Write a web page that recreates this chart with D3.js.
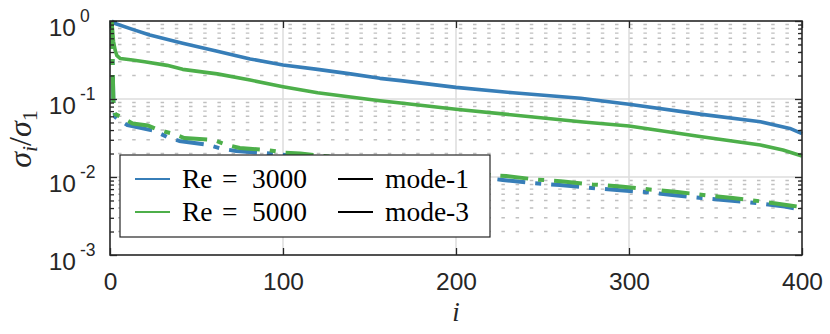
<!DOCTYPE html>
<html>
<head>
<meta charset="utf-8">
<script src="https://cdn.jsdelivr.net/npm/d3@7"></script>
<style>
  html, body { margin: 0; padding: 0; background: #fff; }
  svg { display: block; }
</style>
</head>
<body>
<svg id="chart" width="830" height="334"></svg>
<script>
// ---------------- data ----------------
const xTicks = [0, 100, 200, 300, 400];
const yMajorTicks = [1, 1e-1, 1e-2, 1e-3];
const yTickExponents = ["0", "-1", "-2", "-3"];

const legendSeries = ["Re = 3000", "Re = 5000"];
const legendModes = ["mode-1", "mode-3"];

// Re = 3000, mode-1 (solid blue)
const iRe3000Mode1 = [1, 3, 13, 23, 42, 62, 81, 100, 120, 139, 156, 168, 200, 233, 272, 300, 341, 376, 393, 400];
const re3000Mode1  = [1.0, 0.93, 0.78, 0.66, 0.52, 0.41, 0.326, 0.273, 0.24, 0.21, 0.184, 0.172, 0.141, 0.120, 0.102, 0.0855, 0.064, 0.051, 0.042, 0.036];

// Re = 5000, mode-1 (solid green)
const iRe5000Mode1 = [1, 2, 3, 4, 6, 13, 20, 33, 42, 62, 81, 100, 120, 139, 156, 168, 200, 233, 272, 300, 341, 376, 389, 400];
const re5000Mode1  = [1.0, 0.55, 0.42, 0.36, 0.33, 0.316, 0.30, 0.27, 0.24, 0.21, 0.175, 0.144, 0.12, 0.106, 0.095, 0.0887, 0.0738, 0.0624, 0.0512, 0.0451, 0.033, 0.0257, 0.0222, 0.0186];

// Re = 3000, mode-3 (dash-dot blue)
const iRe3000Mode3 = [1, 2, 3, 5, 10, 26, 33, 40, 57, 64, 73, 90, 100, 130, 160, 190, 215, 227, 244, 260, 276, 293, 309, 325, 342, 358, 374, 390, 400];
const re3000Mode3  = [1.0, 0.081, 0.059, 0.054, 0.0464, 0.0389, 0.0326, 0.029, 0.0257, 0.0232, 0.0215, 0.0203, 0.0193, 0.0157, 0.0131, 0.0111, 0.0098, 0.00916, 0.00838, 0.00789, 0.00733, 0.00681, 0.00643, 0.00588, 0.00538, 0.0050, 0.00464, 0.00419, 0.00378];

// Re = 5000, mode-3 (dash-dot green)
const iRe5000Mode3 = [1, 2, 3, 6, 13, 22, 28, 36, 43, 60, 67, 75, 91, 100, 110, 140, 170, 200, 220, 229, 246, 262, 279, 295, 312, 328, 345, 360, 377, 393, 400];
const re5000Mode3  = [1.0, 0.086, 0.064, 0.0597, 0.0485, 0.0457, 0.040, 0.0361, 0.0316, 0.0298, 0.0261, 0.0235, 0.0222, 0.0206, 0.0200, 0.0170, 0.0143, 0.0121, 0.0106, 0.0103, 0.00929, 0.00875, 0.00802, 0.00755, 0.00692, 0.00643, 0.0058, 0.00538, 0.00485, 0.00431, 0.00412];

// ---------------- layout ----------------
const SANS = "Liberation Sans";
const SERIF = "Liberation Serif";
const svg = d3.select("#chart");
const L = 110, R = 802, T = 21, B = 255;
const x = d3.scaleLinear().domain([0, 400]).range([L, R]);
const y = d3.scaleLog().domain([1e-3, 1]).range([B, T]);
const ink = "#262626";
const blue = "#377eb8", green = "#4daf4a";

const minorVals = [];
[-3, -2, -1].forEach(d => { for (let k = 2; k <= 9; k++) minorVals.push(k * Math.pow(10, d)); });

// background
svg.append("rect").attr("x", L).attr("y", T).attr("width", R - L).attr("height", B - T).attr("fill", "#fff");

// minor grid (dotted)
svg.append("g").selectAll("line").data(minorVals).join("line")
  .attr("x1", L).attr("x2", R)
  .attr("y1", d => y(d)).attr("y2", d => y(d))
  .attr("stroke", "#c0c0c0").attr("stroke-width", 1.4)
  .attr("stroke-dasharray", "3.5,10.7").attr("stroke-dashoffset", 6.2);

// major grid
svg.append("g").selectAll("line").data([1e-1, 1e-2]).join("line")
  .attr("x1", L).attr("x2", R)
  .attr("y1", d => y(d)).attr("y2", d => y(d))
  .attr("stroke", "#dcdcdc").attr("stroke-width", 1.5);
svg.append("g").selectAll("line").data([100, 200, 300]).join("line")
  .attr("y1", T).attr("y2", B)
  .attr("x1", d => x(d)).attr("x2", d => x(d))
  .attr("stroke", "#dcdcdc").attr("stroke-width", 1.5);

// curves
const line = d3.line().x(d => x(d[0])).y(d => y(d[1]));
const zip = (a, b) => a.map((v, k) => [v, b[k]]);
const curves = [
  { d: zip(iRe3000Mode1, re3000Mode1), c: blue, dash: null },
  { d: zip(iRe3000Mode3, re3000Mode3), c: blue, dash: "28,10,6,10" },
  { d: zip(iRe5000Mode1, re5000Mode1), c: green, dash: null },
  { d: zip(iRe5000Mode3, re5000Mode3), c: green, dash: "28,10,6,10" }
];
svg.append("g").selectAll("path").data(curves).join("path")
  .attr("d", c => line(c.d))
  .attr("fill", "none")
  .attr("stroke", c => c.c)
  .attr("stroke-width", c => c.dash ? 4 : 3.6)
  .attr("stroke-dasharray", c => c.dash)
  .attr("stroke-linejoin", "round");

// axes (ticks inward)
const axesG = svg.append("g");
const xb = axesG.append("g").attr("transform", `translate(0,${B})`)
  .call(d3.axisBottom(x).tickValues(xTicks).tickSize(-7).tickPadding(18).tickFormat(d3.format("d")));
xb.attr("font-family", SANS).attr("font-size", 24.5);
xb.selectAll("text").attr("font-family", SANS).attr("font-size", 24.5).attr("fill", ink);
const xt = axesG.append("g").attr("transform", `translate(0,${T})`)
  .call(d3.axisTop(x).tickValues(xTicks).tickSize(-7).tickFormat(""));
const yl = axesG.append("g").attr("transform", `translate(${L},0)`)
  .call(d3.axisLeft(y).tickValues(yMajorTicks).tickSize(-7).tickFormat(""));
const yr = axesG.append("g").attr("transform", `translate(${R},0)`)
  .call(d3.axisRight(y).tickValues(yMajorTicks).tickSize(-7).tickFormat(""));
const ylm = axesG.append("g").attr("transform", `translate(${L},0)`)
  .call(d3.axisLeft(y).tickValues(minorVals).tickSize(-4).tickFormat(""));
const yrm = axesG.append("g").attr("transform", `translate(${R},0)`)
  .call(d3.axisRight(y).tickValues(minorVals).tickSize(-4).tickFormat(""));
[xb, xt, yl, yr, ylm, yrm].forEach(g => {
  g.select(".domain").remove();
  g.selectAll(".tick line").attr("stroke", ink).attr("stroke-width", 1.3);
});

// y tick labels 10^n
const yLab = svg.append("g").attr("fill", ink);
yMajorTicks.forEach((v, k) => {
  yLab.append("text").attr("font-family", SANS).attr("x", 76).attr("y", y(v) + 14.5).attr("text-anchor", "end")
    .attr("font-size", 24.5).text("10");
  yLab.append("text").attr("font-family", SANS).attr("x", 80).attr("y", y(v) + 1).attr("text-anchor", "start")
    .attr("font-size", 17.5).text(yTickExponents[k]);
});

// box
svg.append("rect").attr("x", L).attr("y", T).attr("width", R - L).attr("height", B - T)
  .attr("fill", "none").attr("stroke", ink).attr("stroke-width", 1.6);

// axis labels
svg.append("text").attr("font-family", SERIF).attr("x", 456).attr("y", 321).attr("text-anchor", "middle")
  .attr("font-style", "italic").attr("font-size", 27).attr("fill", ink).text("i");

const yt = svg.append("text").attr("font-family", SERIF).attr("transform", "translate(31,139) rotate(-90)")
  .attr("text-anchor", "middle").attr("font-style", "italic")
  .attr("font-size", 32).attr("fill", ink);
yt.append("tspan").text("σ");
yt.append("tspan").attr("font-size", 22).attr("dy", 6).text("i");
yt.append("tspan").attr("dy", -6).attr("font-style", "normal").text("/");
yt.append("tspan").text("σ");
yt.append("tspan").attr("font-size", 22).attr("font-style", "normal").attr("dy", 6).text("1");

// legend
const lg = svg.append("g");
lg.append("rect").attr("x", 120).attr("y", 155).attr("width", 370).attr("height", 82)
  .attr("fill", "#fff").attr("stroke", ink).attr("stroke-width", 1.2);
const rows = [179, 212];
const rowBase = [188, 221];
[blue, green].forEach((c, k) => {
  lg.append("line").attr("x1", 135).attr("x2", 170).attr("y1", rows[k]).attr("y2", rows[k])
    .attr("stroke", c).attr("stroke-width", 2);
  lg.append("line").attr("x1", 338).attr("x2", 373).attr("y1", rows[k]).attr("y2", rows[k])
    .attr("stroke", "#000").attr("stroke-width", 2);
  const parts = legendSeries[k].split(" ");  // ["Re","=","3000"]
  const t = lg.append("text").attr("font-family", SERIF).attr("y", rowBase[k]).attr("font-size", 27.5).attr("fill", "#000");
  t.append("tspan").attr("x", 182).text(parts[0]);
  t.append("tspan").attr("x", 222).text(parts[1]);
  t.append("tspan").attr("x", 252).text(parts[2]);
  lg.append("text").attr("font-family", SERIF).attr("x", 385).attr("y", rowBase[k]).attr("font-size", 27.5)
    .attr("fill", "#000").text(legendModes[k]);
});
</script>
</body>
</html>
